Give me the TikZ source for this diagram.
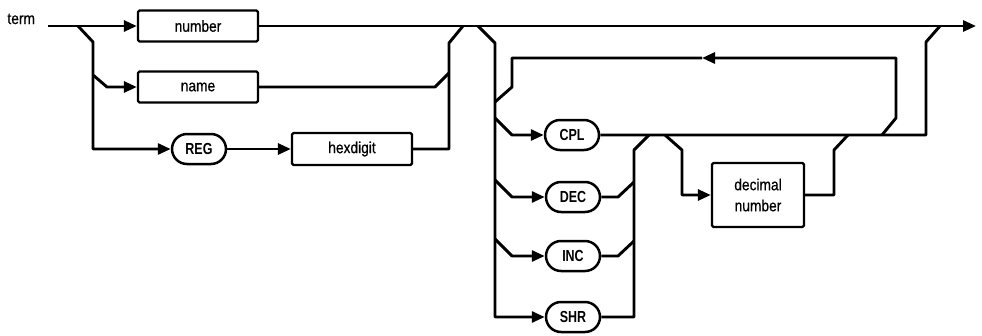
\documentclass[tikz,border=0pt]{standalone}
\usepackage{fontspec}
\setmainfont{Liberation Sans}
\newfontfamily\txtfont{Liberation Sans}[FakeStretch=0.86,FakeBold=0.6]
\newfontfamily\labfont{Liberation Sans}[FakeStretch=0.78]
\usetikzlibrary{arrows.meta,shapes.misc}
\begin{document}
\begin{tikzpicture}[x=1pt,y=-1pt,
  line width=2.9pt, line join=round,
  arr/.style={-{Triangle[length=13pt,width=11pt]}},
  txt/.style={font=\txtfont\fontsize{16}{21}\selectfont},
  box/.style={draw, line width=2.3pt, rounded corners=1.5pt, minimum width=120pt,
    minimum height=31pt, inner sep=0pt, txt, align=center},
  kw/.style={draw, line width=2.5pt, rounded rectangle, minimum width=54pt,
    minimum height=30pt, inner sep=0pt, font=\labfont\bfseries\fontsize{16}{18}\selectfont}]
\useasboundingbox (0,0) rectangle (982,335);

% nodes
\node[txt, anchor=base west, inner sep=0pt] (term) at (6,24) {term};
\node[box] (number) at (198,26) {number};
\node[box] (name) at (198,87) {name};
\node[kw] (reg) at (199,149) {REG};
\node[box, minimum height=32pt] (hex) at (352,149) {hexdigit};
\node[kw] (cpl) at (572,135) {CPL};
\node[kw] (dec) at (573,197) {DEC};
\node[kw] (inc) at (573,256) {INC};
\node[kw] (shr) at (573,317) {SHR};
\node[box, minimum width=92pt, minimum height=64pt] (decnum) at (758,195) {decimal\\number};

% coordinates
\coordinate (s) at (48,26);
\coordinate (fin) at (976,26);
\coordinate (a1) at (78,26);
\coordinate (a2) at (93,42);
\coordinate (a3) at (93,75);
\coordinate (a4) at (107,87);
\coordinate (b1) at (463,26);
\coordinate (b2) at (449,43);
\coordinate (b3) at (449,73);
\coordinate (b4) at (435,87);
\coordinate (c1) at (478,26);
\coordinate (c2) at (495,43);
\coordinate (c3) at (495,118);
\coordinate (c4) at (512,135);
\coordinate (c5) at (495,180);
\coordinate (c6) at (512,197);
\coordinate (c7) at (495,239);
\coordinate (c8) at (512,256);
\coordinate (l1) at (495,102);
\coordinate (l2) at (512,87);
\coordinate (l3) at (512,58);
\coordinate (lm) at (702,58);
\coordinate (l4) at (896,58);
\coordinate (l5) at (896,118);
\coordinate (l6) at (882,135);
\coordinate (dr1) at (618,197);
\coordinate (dr2) at (634,182);
\coordinate (ir1) at (618,256);
\coordinate (ir2) at (634,241);
\coordinate (r2) at (634,150);
\coordinate (r1) at (649,135);
\coordinate (f2) at (926,42);
\coordinate (f1) at (940,26);
\coordinate (g1) at (665,135);
\coordinate (g2) at (682,150);
\coordinate (h2) at (834,150);
\coordinate (h1) at (848,135);

% main line
\draw[arr] (s) -- (number.west);
\draw[arr] (number.east) -- (fin);

% group 1
\draw[arr] (a1) -- (a2) |- (reg.west);
\draw[arr] (a3) -- (a4) -- (name.west);
\draw[arr] (reg.east) -- (hex.west);
\draw (hex.east) -| (b2) -- (b1);
\draw (name.east) -- (b4) -- (b3);

% group 2
\draw[arr] (c1) -- (c2) |- (shr.west);
\draw[arr] (c3) -- (c4) -- (cpl.west);
\draw[arr] (c5) -- (c6) -- (dec.west);
\draw[arr] (c7) -- (c8) -- (inc.west);
\draw (l1) -- (l2) -- (l3) -- (lm);
\draw[arr] (l6) -- (l5) -- (l4) -- (lm);
\draw (dec.east) -- (dr1) -- (dr2);
\draw (inc.east) -- (ir1) -- (ir2);
\draw (shr.east) -| (r2) -- (r1);
\draw (cpl.east) -| (f2) -- (f1);
\draw[arr] (g1) -- (g2) |- (decnum.west);
\draw (decnum.east) -| (h2) -- (h1);
\end{tikzpicture}
\end{document}
